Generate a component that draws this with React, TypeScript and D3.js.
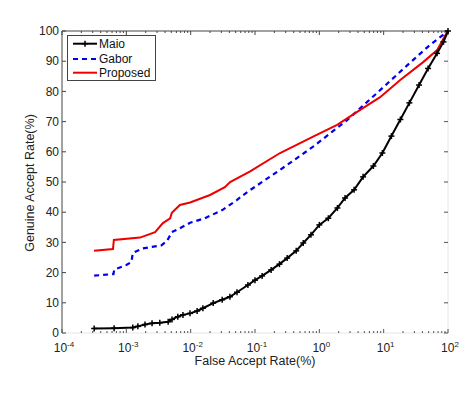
import React from 'react'
import * as d3 from 'd3'

// FAR (%) and GAR (%)
const maioFar = [3.16e-4, 6.46e-4, 1.26e-3, 1.51e-3, 1.95e-3, 2.51e-3, 3.31e-3, 4.47e-3, 5.13e-3, 6.31e-3, 7.59e-3, 9.77e-3, 0.0126, 0.0155, 0.0224, 0.0309, 0.0407, 0.0525, 0.0776, 0.1, 0.129, 0.178, 0.24, 0.316, 0.437, 0.562, 0.741, 1.0, 1.38, 1.91, 2.51, 3.47, 4.79, 6.92, 9.55, 13.2, 18.2, 25.1, 35.5, 49.0, 67.6, 85.1, 100]
const maioGar = [1.5, 1.6, 1.8, 2.2, 2.8, 3.2, 3.4, 3.7, 4.5, 5.4, 6.0, 6.5, 7.3, 8.2, 9.9, 11, 12, 13.5, 15.9, 17.5, 18.9, 20.9, 22.8, 24.8, 27.2, 29.8, 32.5, 35.8, 38, 41.4, 44.7, 47.4, 51.7, 55.3, 59.6, 65.2, 70.7, 76.2, 82.1, 87.6, 92.6, 96.4, 100]

const gaborFar = [3.16e-4, 6.3e-4, 6.5e-4, 1.0e-3, 1.2e-3, 1.26e-3, 1.8e-3, 2.5e-3, 3.5e-3, 4.3e-3, 5.1e-3, 6.8e-3, 9.8e-3, 0.0166, 0.031, 0.052, 0.076, 0.245, 0.79, 2.7, 8.9, 23.4, 52.5, 100]
const gaborGar = [19, 19.5, 21, 22.5, 23.5, 26.5, 28, 28.5, 29, 30.5, 33.4, 34.7, 36.5, 38, 40.7, 44, 46.7, 54, 61.6, 70.5, 80.5, 88.7, 95.4, 100]

const propFar = [3.15e-4, 6.2e-4, 6.4e-4, 1.63e-3, 2.8e-3, 3.7e-3, 4.8e-3, 5.1e-3, 6.8e-3, 9.8e-3, 0.02, 0.034, 0.041, 0.084, 0.245, 0.8, 1.89, 3.87, 8.8, 18.1, 41.1, 68, 97.3, 100]
const propGar = [27.2, 27.8, 30.8, 31.6, 33.4, 36.4, 38, 39.8, 42.4, 43.2, 45.7, 48.3, 50, 53.5, 59.6, 65, 68.9, 73.2, 78.1, 83.8, 89.7, 93.7, 99.7, 100]

const xExps = [-4, -3, -2, -1, 0, 1, 2]
const yTicks = [0, 10, 20, 30, 40, 50, 60, 70, 80, 90, 100]
const legendNames = ['Maio', 'Gabor', 'Proposed']

const W = 474
const H = 396
const L = 62, R = 448, T = 31, B = 333
const font = '"Liberation Sans", Arial, Helvetica, sans-serif'

export default function App() {
  const x = d3.scaleLog().domain([1e-4, 100]).range([L, R])
  const y = d3.scaleLinear().domain([0, 100]).range([B, T])

  const line = d3.line<[number, number]>().x(d => x(d[0])).y(d => y(d[1]))
  const zip = (a: number[], b: number[]) => a.map((v, i) => [v, b[i]] as [number, number])

  const maio = zip(maioFar, maioGar)
  const gabor = zip(gaborFar, gaborGar)
  const prop = zip(propFar, propGar)

  const minor: number[] = []
  for (let e = -4; e < 2; e++) {
    for (let k = 2; k <= 9; k++) minor.push(k * Math.pow(10, e))
  }

  const legY = [43.7, 59, 72.7]
  const legStyles = [
    { stroke: '#000', dash: undefined as string | undefined, w: 2 },
    { stroke: '#0000ee', dash: '5,4', w: 2.2 },
    { stroke: '#ee0000', dash: undefined, w: 2 },
  ]

  return (
    <svg width={W} height={H} style={{ position: 'absolute', left: 0, top: 0, background: '#fff' }}>
      <rect x={0} y={0} width={W} height={H} fill="#fff" />

      {/* faint bottom/right frame */}
      <line x1={L} x2={R} y1={B} y2={B} stroke="#e6e6e6" strokeWidth={1} />
      <line x1={R} x2={R} y1={T} y2={B} stroke="#e6e6e6" strokeWidth={1} />
      {/* left/top frame */}
      <line x1={L} x2={L} y1={T} y2={B} stroke="#444" strokeWidth={1} />
      <line x1={L} x2={R} y1={T} y2={T} stroke="#444" strokeWidth={1} />

      {/* y ticks */}
      {yTicks.map(t => (
        <g key={'y' + t}>
          <line x1={L} x2={L + 4} y1={y(t)} y2={y(t)} stroke="#444" />
          <line x1={R} x2={R - 4} y1={y(t)} y2={y(t)} stroke="#555" />
          <text x={L - 3} y={y(t)} dy="0.35em" textAnchor="end" fontFamily={font} fontSize={12} fill="#222">{t}</text>
        </g>
      ))}

      {/* x ticks */}
      {xExps.map(e => (
        <g key={'x' + e}>
          <line x1={x(Math.pow(10, e))} x2={x(Math.pow(10, e))} y1={B} y2={B - 4} stroke="#555" />
          <line x1={x(Math.pow(10, e))} x2={x(Math.pow(10, e))} y1={T} y2={T + 4} stroke="#444" />
          <text x={x(Math.pow(10, e)) + 2} y={352} textAnchor="middle" fontFamily={font} fontSize={12} fill="#222">
            10<tspan dy={-5} fontSize={8}>{e}</tspan>
          </text>
        </g>
      ))}
      {minor.map((m, i) => (
        <g key={'m' + i}>
          <line x1={x(m)} x2={x(m)} y1={B} y2={B - 2} stroke="#555" />
          <line x1={x(m)} x2={x(m)} y1={T} y2={T + 2} stroke="#444" />
        </g>
      ))}

      {/* curves */}
      <path d={line(gabor) ?? ''} fill="none" stroke="#0000ee" strokeWidth={2.2} strokeDasharray="5,4" />
      <path d={line(prop) ?? ''} fill="none" stroke="#ee0000" strokeWidth={2} />
      <path d={line(maio) ?? ''} fill="none" stroke="#000" strokeWidth={2} />
      {maio.map((d, i) => (
        <g key={'mk' + i} stroke="#000" strokeWidth={1.5}>
          <line x1={x(d[0]) - 3} x2={x(d[0]) + 3} y1={y(d[1])} y2={y(d[1])} />
          <line x1={x(d[0])} x2={x(d[0])} y1={y(d[1]) - 3} y2={y(d[1]) + 3} />
        </g>
      ))}

      {/* legend */}
      <rect x={67.5} y={35.5} width={88} height={45} fill="#fff" stroke="#444" strokeWidth={1} />
      {legendNames.map((n, i) => (
        <g key={n}>
          <line x1={73} x2={97} y1={legY[i]} y2={legY[i]} stroke={legStyles[i].stroke} strokeWidth={legStyles[i].w} strokeDasharray={legStyles[i].dash} />
          {i === 0 && (
            <g stroke="#000" strokeWidth={1.5}>
              <line x1={82} x2={88} y1={legY[i]} y2={legY[i]} />
              <line x1={85} x2={85} y1={legY[i] - 3} y2={legY[i] + 3} />
            </g>
          )}
          <text x={99} y={legY[i]} dy="0.35em" fontFamily={font} fontSize={12} fill="#111">{n}</text>
        </g>
      ))}

      {/* axis titles */}
      <text x={255} y={365} textAnchor="middle" fontFamily={font} fontSize={12.5} fill="#222">False Accept Rate(%)</text>
      <text transform="translate(34,183) rotate(-90)" textAnchor="middle" fontFamily={font} fontSize={12.5} fill="#222">Genuine Accept Rate(%)</text>

      {/* caption, cut off by the image edge like in the scan */}
      <text x={25} y={406} fontFamily='"Liberation Serif", "Times New Roman", serif' fontWeight="bold" fontSize={15} fill="#222" letterSpacing={1}>Figure 8. ROC Curves using FVC 2004 DB1 database</text>
    </svg>
  )
}
